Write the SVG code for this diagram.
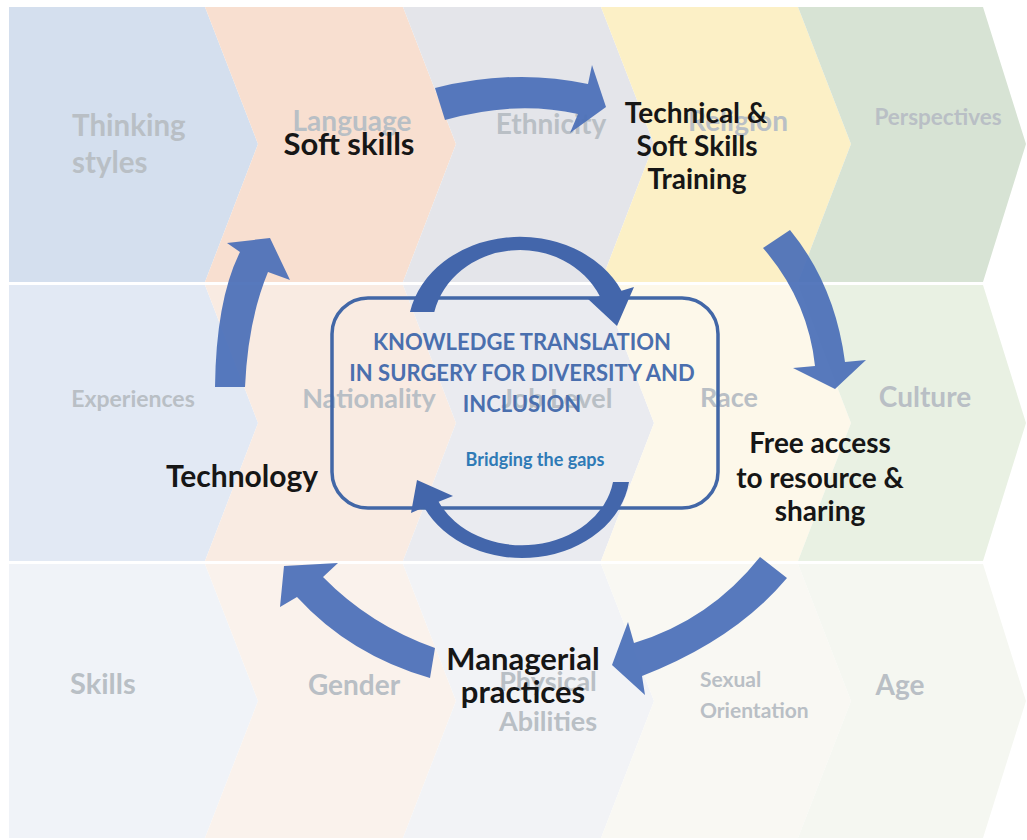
<svg xmlns="http://www.w3.org/2000/svg" width="1027" height="840" viewBox="0 0 1027 840">
<style>
text{font-family:Lato,"Liberation Sans",sans-serif;font-weight:700}
.fade{fill:#b9bfc5}
.node{fill:#161616}
.kt{fill:#4a6fae;font-size:22px}
.big{fill:#4a6fb8;opacity:0.93}
.ring{fill:#4366ab}
</style>
<rect width="1027" height="840" fill="#ffffff"/>
<g id="background">
<g id="row1">
<path d="M9,7 L205,7 L258,144 L205,282 L9,282 Z" fill="#d4dfee"/>
<path d="M205,7 L403,7 L456,144 L403,282 L205,282 L258,144 Z" fill="#f8dfd0"/>
<path d="M403,7 L601,7 L654,144 L601,282 L403,282 L456,144 Z" fill="#e4e5ea"/>
<path d="M601,7 L798,7 L851,144 L798,282 L601,282 L654,144 Z" fill="#fcf0c6"/>
<path d="M798,7 L983,7 L1026,144 L983,282 L798,282 L851,144 Z" fill="#d7e3d4"/>
</g>
<g id="row2">
<path d="M9,285 L205,285 L258,423 L205,561 L9,561 Z" fill="#e2e9f4"/>
<path d="M205,285 L403,285 L456,423 L403,561 L205,561 L258,423 Z" fill="#f9ebe2"/>
<path d="M403,285 L601,285 L654,423 L601,561 L403,561 L456,423 Z" fill="#eaebf0"/>
<path d="M601,285 L798,285 L851,423 L798,561 L601,561 L654,423 Z" fill="#fdf8ea"/>
<path d="M798,285 L983,285 L1026,423 L983,561 L798,561 L851,423 Z" fill="#e9f1e3"/>
</g>
<g id="row3">
<path d="M9,564 L205,564 L258,701 L205,838 L9,838 Z" fill="#f0f3f8"/>
<path d="M205,564 L403,564 L456,701 L403,838 L205,838 L258,701 Z" fill="#faf2ec"/>
<path d="M403,564 L601,564 L654,701 L601,838 L403,838 L456,701 Z" fill="#f2f3f6"/>
<path d="M601,564 L798,564 L851,701 L798,838 L601,838 L654,701 Z" fill="#f9f8f3"/>
<path d="M798,564 L983,564 L1026,701 L983,838 L798,838 L851,701 Z" fill="#f5f7f1"/>
</g>
<g id="faded-labels" class="fade">
<text x="72" y="136" font-size="29.5">Thinking</text>
<text x="72" y="173" font-size="29.5">styles</text>
<text x="352" y="131" font-size="28" text-anchor="middle">Language</text>
<text x="551" y="134" font-size="28" text-anchor="middle">Ethnicity</text>
<text x="738" y="131" font-size="28" text-anchor="middle">Religion</text>
<text x="938" y="125" font-size="22.5" text-anchor="middle">Perspectives</text>
<text x="133" y="407" font-size="23" text-anchor="middle">Experiences</text>
<text x="369" y="408" font-size="27" text-anchor="middle">Nationality</text>
<text x="557" y="408" font-size="27" text-anchor="middle">Job Level</text>
<text x="729" y="407" font-size="27" text-anchor="middle">Race</text>
<text x="925" y="407" font-size="28" text-anchor="middle">Culture</text>
<text x="70" y="694" font-size="29">Skills</text>
<text x="354" y="695" font-size="28" text-anchor="middle">Gender</text>
<text x="548" y="691" font-size="27" text-anchor="middle">Physical</text>
<text x="548" y="731" font-size="27" text-anchor="middle">Abilities</text>
<text x="700" y="687" font-size="21">Sexual</text>
<text x="700" y="718" font-size="21">Orientation</text>
<text x="900" y="695" font-size="28" text-anchor="middle">Age</text>
</g>
</g>
<g id="center-box">
<rect x="332" y="298" width="386" height="210" rx="36" fill="none" stroke="#4267a7" stroke-width="3.5"/>
<text class="kt" x="522" y="350" text-anchor="middle">KNOWLEDGE TRANSLATION</text>
<text class="kt" x="522" y="381" text-anchor="middle">IN SURGERY FOR DIVERSITY AND</text>
<text class="kt" x="522" y="412" text-anchor="middle">INCLUSION</text>
<text x="535" y="466" font-size="18" fill="#2f7ab6" text-anchor="middle">Bridging the gaps</text>
</g>
<g id="connectors">
<path id="ring-top" class="ring" d="M410,312 A112,93 0 0 1 621.5,290.7 L634,287 L617,326 L588,299 L599.8,296.2 A88,80 0 0 0 434.3,312 Z"/>
<path id="ring-bottom" class="ring" d="M629,482 A108,88 0 0 1 424.1,507.2 L411,513 L417,480 L453,496 L438.6,501.7 A92,75 0 0 0 613,482 Z"/>
<path id="arrow-top" class="big" d="M435,88 Q515,68 588,84 L592,65 L606,107 L570,133 L578,114 Q515,100 445,120 Z"/>
<path id="arrow-right-top" class="big" d="M763,248 L790,230 Q835,285 845,362 L866,360 L835,389 L793,368 L815,366 Q808,300 763,248 Z"/>
<path id="arrow-right-bottom" class="big" d="M760,557 L787,578 Q735,640 642,676 L645,695 L612,665 L628,622 L634,643 Q710,620 760,557 Z"/>
<path id="arrow-bottom-left" class="big" d="M435,648 Q370,625 323,577 L338,563 L284,566 L280,607 L297,597 Q350,655 430,678 Z"/>
<path id="arrow-left" class="big" d="M215,387 Q216,300 240,252 L227,243 L270,238 L290,280 L268,272 Q248,320 245,387 Z"/>
</g>
<g id="node-soft-skills"><text class="node" x="349" y="155" font-size="31" text-anchor="middle">Soft skills</text></g>
<g id="node-training" class="node" font-size="28" text-anchor="middle">
<text x="696" y="123">Technical &amp;</text>
<text x="697" y="156">Soft Skills</text>
<text x="697" y="189">Training</text>
</g>
<g id="node-free-access" class="node" font-size="28" text-anchor="middle">
<text x="820" y="453">Free access</text>
<text x="820" y="488">to resource &amp;</text>
<text x="820" y="521">sharing</text>
</g>
<g id="node-managerial" class="node" font-size="31" text-anchor="middle">
<text x="523" y="670">Managerial</text>
<text x="523" y="703">practices</text>
</g>
<g id="node-technology"><text class="node" x="242" y="487" font-size="30" text-anchor="middle">Technology</text></g>
</svg>
